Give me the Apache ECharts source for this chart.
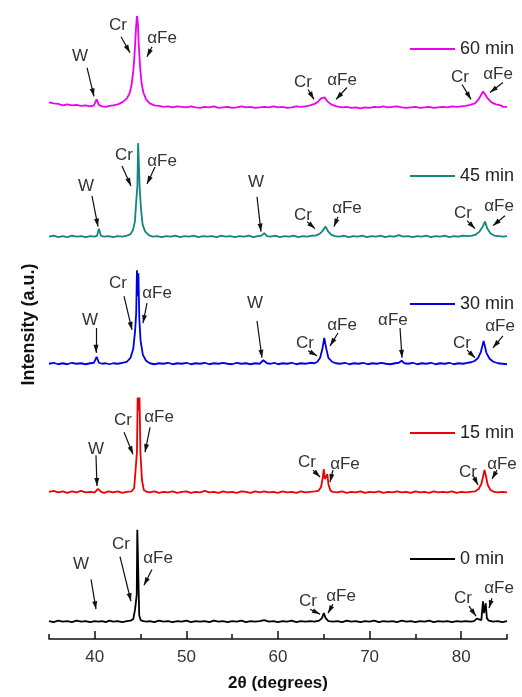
<!DOCTYPE html>
<html><head><meta charset="utf-8">
<script src="https://cdn.jsdelivr.net/npm/echarts@6/dist/echarts.min.js"></script>
<style>html,body{margin:0;padding:0;background:#fff}#c{width:522px;height:697px}</style>
</head><body><div id="c"></div>
<script>
// ---------- DATA ----------
const seriesNames = ['0 min', '15 min', '30 min', '45 min', '60 min'];
const stackOffsets = [0, 130, 260, 390, 520];   // vertical offsets of the stacked patterns (a.u.)
const xMajorTicks = [40, 50, 60, 70, 80];
const xMinorTicks = [35, 45, 55, 65, 75, 85];

// [2theta, intensity] for each pattern
const pattern0 = [[35,18],[35.5,17],[36,18.5],[36.5,17.5],[37,18],[37.5,17],[38,18.5],[38.5,17.5],[39,18],[39.5,17],[40,18],[40.2,20],[40.4,17.5],[40.8,18],[41.2,17],[41.6,18.5],[42,17.5],[42.5,18],[43,17],[43.5,18],[43.9,18.5],[44.2,20],[44.4,30],[44.5,28],[44.58,45],[44.64,110],[44.7,108],[44.76,60],[44.85,24],[45,19],[45.3,18],[45.7,17.5],[46,18],[46.5,17],[47,18.5],[47.5,17.5],[48,18],[48.5,17],[49,18],[49.5,17.5],[50,18.5],[50.5,17],[51,18],[51.5,17.5],[52,18],[52.5,17],[53,18.5],[53.5,17.5],[54,18],[54.5,17],[55,18],[55.5,17.5],[56,18.5],[56.5,17],[57,18],[57.5,17.5],[58,18],[58.5,19],[59,17.5],[59.5,18],[60,17],[60.5,18],[61,17.5],[61.5,18.5],[62,17],[62.5,18],[63,17.5],[63.5,18],[64,17.5],[64.5,18.5],[64.8,21],[65,26],[65.2,21],[65.5,18],[66,17.5],[66.5,18],[67,17],[67.5,18.5],[68,17.5],[68.5,18],[69,17],[69.5,18],[70,17.5],[70.5,18.5],[71,17],[71.5,18],[72,17.5],[72.5,18],[73,17],[73.5,18.5],[74,17.5],[74.5,18],[75,17],[75.5,18],[76,17.5],[76.5,18.5],[77,17],[77.5,18],[78,17.5],[78.5,18],[79,17],[79.5,18],[80,17.5],[80.5,18],[81,17.5],[81.4,18],[81.7,20.5],[81.9,18.5],[82.2,19],[82.38,38],[82.5,26],[82.58,25],[82.68,36],[82.8,21],[83,18.5],[83.5,17.5],[84,18],[84.5,17],[85,18]];
const pattern15 = [[35,18],[35.5,19],[36,17.5],[36.5,18.5],[37,17],[37.5,18.5],[38,17.5],[38.5,19],[39,17.5],[39.5,18],[40,17.5],[40.35,21],[40.7,18],[41,17],[41.5,18.5],[42,17.5],[42.5,18.5],[43,17],[43.5,18],[44,18.5],[44.3,22],[44.45,40],[44.6,58],[44.68,113],[44.78,100],[44.88,113],[44.98,58],[45.15,30],[45.35,20],[45.7,18],[46,17.5],[46.5,18.5],[47,17],[47.5,18],[48,17.5],[48.5,18.5],[49,17],[49.5,18],[50,18.5],[50.5,17],[51,18],[51.5,17.5],[52,19],[52.5,17.5],[53,18],[53.5,17],[54,18.5],[54.5,17.5],[55,18],[55.5,17],[56,18.5],[56.5,18],[57,17],[57.5,18.5],[58,17.5],[58.5,18.5],[59,17.5],[59.5,18],[60,17],[60.5,18.5],[61,17.5],[61.5,18],[62,17],[62.5,18.5],[63,17.5],[63.5,18],[64,18.5],[64.4,19],[64.7,23],[64.88,32],[65.0,41],[65.12,31],[65.25,30],[65.38,36],[65.52,25],[65.75,19],[66,18],[66.5,17.5],[67,18.5],[67.5,17],[68,18],[68.5,17.5],[69,18.5],[69.5,17],[70,18],[70.5,17.5],[71,18.5],[71.5,17],[72,18],[72.5,17.5],[73,18.5],[73.5,17.5],[74,18],[74.5,17],[75,18.5],[75.5,17.5],[76,18],[76.5,17],[77,18.5],[77.5,17.5],[78,18],[78.5,17.5],[79,18.5],[79.5,17],[80,18],[80.5,17.5],[81,18],[81.5,18.5],[81.9,21],[82.2,26],[82.4,34],[82.55,40],[82.7,34],[82.9,25],[83.2,20],[83.6,18],[84,17.5],[84.5,18],[85,17.5]];
const pattern30 = [[35,17],[35.5,18],[36,16.5],[36.5,17.5],[37,16.5],[37.5,18],[38,17],[38.5,17.5],[39,16.5],[39.5,17.5],[39.9,18],[40.2,24],[40.45,18],[40.8,17],[41.2,17.5],[41.6,16.5],[42,17.5],[42.5,17],[43,18],[43.5,19],[43.9,23],[44.2,32],[44.4,50],[44.52,68],[44.6,111],[44.68,85],[44.76,108],[44.86,62],[45.0,40],[45.25,26],[45.6,20],[46,17.5],[46.5,16.5],[47,17.5],[47.5,17],[48,18],[48.5,16.5],[49,17.5],[49.5,17],[50,18],[50.5,16.5],[51,17.5],[51.5,17],[52,18],[52.5,16.5],[53,17.5],[53.5,17],[54,18],[54.5,17],[55,16.5],[55.5,18],[56,17],[56.5,17.5],[57,16.5],[57.5,17.5],[58,17],[58.4,20.5],[58.8,17.5],[59.2,17],[59.6,18],[60,16.5],[60.5,17.5],[61,17],[61.5,18],[62,16.5],[62.5,17.5],[63,17],[63.5,18],[64,17.5],[64.3,19],[64.6,23],[64.85,32],[65.05,43],[65.25,33],[65.5,23],[65.9,19],[66.3,17.5],[66.8,17],[67.3,18],[67.8,16.5],[68.3,17.5],[68.8,17],[69.3,18],[69.8,16.5],[70.3,17.5],[70.8,17],[71.3,18],[71.8,17],[72.3,16.5],[72.8,17.5],[73.2,18],[73.5,20],[73.8,17.5],[74.2,17],[74.7,18],[75.2,16.5],[75.7,17.5],[76.2,17],[76.7,18],[77.2,16.5],[77.7,17.5],[78.2,17],[78.7,18],[79.2,16.5],[79.7,17.5],[80.2,17],[80.7,18],[81.1,18.5],[81.5,20],[81.85,23],[82.15,29],[82.45,40],[82.75,28],[83.1,22],[83.5,19],[84,17.5],[84.5,17],[85,16.5]];
const pattern45 = [[35,15],[35.5,16],[36,14.5],[36.5,15.5],[37,14.5],[37.5,16],[38,15],[38.5,15.5],[39,14.5],[39.5,15.5],[40,15],[40.25,16],[40.45,23],[40.65,16],[41,15],[41.5,15.5],[42,14.5],[42.5,15.5],[43,15],[43.5,16],[43.9,17.5],[44.15,21],[44.38,30],[44.52,50],[44.65,66],[44.73,109],[44.8,109],[44.9,64],[45.03,44],[45.22,27],[45.5,20],[45.9,16.5],[46.3,15],[46.8,15.5],[47.3,14.5],[47.8,15.5],[48.3,15],[48.8,16],[49.3,14.5],[49.8,15.5],[50.3,15],[50.8,16],[51.3,14.5],[51.8,15.5],[52.3,15],[52.8,15.5],[53.3,14.5],[53.8,16],[54.3,15],[54.8,15.5],[55.3,14.5],[55.8,15.5],[56.3,15],[56.8,16],[57.3,14.5],[57.8,15.5],[58.2,16],[58.5,18.5],[58.8,15.5],[59.2,15],[59.7,16],[60.2,14.5],[60.7,15.5],[61.2,15],[61.7,16],[62.2,14.5],[62.7,15.5],[63.2,15],[63.7,16],[64.1,16],[64.5,17.5],[64.8,20],[65.0,22.5],[65.2,25],[65.45,20.5],[65.8,17],[66.2,15.5],[66.7,15],[67.2,16],[67.7,14.5],[68.2,15.5],[68.7,15],[69.2,16],[69.7,14.5],[70.2,15.5],[70.7,15],[71.2,16],[71.7,14.5],[72.2,15.5],[72.7,15],[73.2,16.5],[73.7,15],[74.2,15.5],[74.7,14.5],[75.2,15.5],[75.7,15],[76.2,16],[76.7,14.5],[77.2,15.5],[77.7,15],[78.2,16],[78.7,14.5],[79.2,15.5],[79.7,15],[80.2,16],[80.7,15.5],[81.2,16],[81.6,17],[82.0,20],[82.35,25],[82.6,30],[82.85,23],[83.2,18],[83.6,16],[84.1,15.5],[84.6,15],[85,15.5]];
const pattern60 = [[35,20],[35.5,19],[36,18.5],[36.5,17],[37,18],[37.5,17],[38,17.5],[38.5,16.5],[39,17],[39.5,16],[39.9,17],[40.2,23],[40.45,17.5],[40.8,16],[41.2,15.5],[41.6,16.5],[42,17],[42.5,18],[43,20],[43.5,24],[43.8,29],[44.0,37],[44.2,51],[44.35,70],[44.5,95],[44.6,107],[44.7,100],[44.8,78],[44.95,55],[45.1,40],[45.3,30],[45.6,23],[46,19],[46.5,17],[47,16.5],[47.5,15.5],[48,16],[48.5,15],[49,16],[49.5,15.5],[50,15],[50.5,16],[51,15],[51.5,14.5],[52,15.5],[52.5,15],[53,16],[53.5,14.5],[54,15],[54.5,15.5],[55,14.5],[55.5,15],[56,16],[56.5,15],[57,15.5],[57.5,14.5],[58,15],[58.5,15.5],[59,15],[59.5,16],[60,15],[60.5,15.5],[61,14.5],[61.5,15],[62,16],[62.5,15.5],[63,16],[63.5,17],[64,18.5],[64.4,21],[64.7,24],[64.9,26],[65.1,25],[65.4,21],[65.8,18],[66.4,16],[67,15],[67.5,15.5],[68,14.5],[68.5,15],[69,14],[69.5,15],[70,14.5],[70.5,15.5],[71,15],[71.5,16],[72,15],[72.5,15.5],[73,16],[73.5,15],[74,14.5],[74.5,15],[75,15.5],[75.5,14.5],[76,15],[76.5,15.5],[77,14.5],[77.5,15],[78,15.5],[78.5,15],[79,16],[79.5,15.5],[80,16],[80.5,16.5],[81,17.5],[81.5,19],[81.9,23],[82.2,28],[82.4,31],[82.6,29],[82.9,24],[83.3,20],[83.8,18],[84.3,17],[84.6,15.5],[85,15.5]];
const patterns = [pattern0, pattern15, pattern30, pattern45, pattern60];

// phase labels: [text, 2theta, stacked intensity]
const phaseLabels = [
  ['W',38.49,75],['Cr',42.86,95],['αFe',46.90,81],['Cr',63.28,38],['αFe',66.88,43],['Cr',80.20,41],['αFe',84.13,51],
  ['W',40.13,191],['Cr',43.08,220],['αFe',47.01,223],['Cr',63.17,178],['αFe',67.31,176],['Cr',80.74,168],['αFe',84.45,176],
  ['W',39.48,321],['Cr',42.53,358],['αFe',46.79,348],['W',57.49,338],['Cr',62.95,298],['αFe',66.99,316],['αFe',72.55,321],['Cr',80.09,298],['αFe',84.24,315],
  ['W',39.04,456],['Cr',43.19,487],['αFe',47.34,481],['W',57.60,460],['Cr',62.73,426],['αFe',67.53,433],['Cr',80.20,428],['αFe',84.13,435],
  ['W',38.38,586],['Cr',42.53,618],['αFe',47.34,605],['Cr',62.73,560],['αFe',66.99,562],['Cr',79.87,565],['αFe',84.02,568]
];
// arrows: [from 2theta, from intensity, to 2theta, to intensity]
const phaseArrows = [
  [39.59,60,40.13,30],[42.75,83,43.95,38],[46.24,70,45.37,54],[63.49,30,64.59,25],[66.00,35,65.46,26],[80.85,33,81.62,23],[83.36,41,83.03,31],
  [40.13,185,40.24,154],[43.19,208,44.17,186],[46.03,213,45.48,188],[63.82,170,64.59,163],[66.00,170,65.68,158],[81.29,165,81.83,155],[83.91,170,83.36,161],
  [40.13,313,40.13,288],[43.19,345,44.06,311],[45.70,338,45.26,318],[57.71,320,58.25,283],[63.28,290,64.26,285],[66.55,308,65.68,295],[73.32,313,73.54,283],[80.63,291,81.51,283],[84.56,305,83.47,293],
  [39.69,446,40.35,415],[42.97,476,43.95,456],[46.57,475,45.70,458],[57.71,445,58.14,410],[63.17,420,64.04,413],[66.55,425,66.11,415],[80.63,421,81.51,413],[84.78,426,83.47,416],
  [39.15,575,39.91,546],[42.86,606,43.84,590],[46.24,596,45.70,586],[63.28,553,63.93,543],[67.53,555,66.33,543],[80.09,558,81.07,543],[84.56,560,83.14,550]
];

// ---------- STYLE ----------
const FONT = "'Liberation Sans', Arial, sans-serif";
const colors = ['#000000', '#ee0000', '#0000e0', '#11877c', '#ee00ee'];
const legendTops = [550, 424, 295, 167, 40];
const HEAD_W = 5, HEAD_L = 8;

const series = patterns.map((p, i) => ({
  name: seriesNames[i],
  type: 'line',
  showSymbol: false,
  symbol: 'none',
  clip: false,
  animation: false,
  silent: true,
  z: 2,
  lineStyle: { color: colors[i], width: 1.8 },
  itemStyle: { color: colors[i] },
  data: p.map(pt => [pt[0], pt[1] + stackOffsets[i]])
}));

series[0].markPoint = {
  symbol: 'circle', symbolSize: 1, silent: true, animation: false,
  itemStyle: { color: 'rgba(0,0,0,0)' },
  label: { show: true, position: 'inside', formatter: p => p.name, fontSize: 17, color: '#333', fontFamily: FONT },
  data: phaseLabels.map(l => ({ name: l[0], coord: [l[1], l[2]] }))
};
series[0].markLine = {
  symbol: 'none', silent: true, animation: false,
  label: { show: false },
  lineStyle: { color: '#111', width: 1.2, type: 'solid' },
  emphasis: { disabled: true },
  data: phaseArrows.map(a => [{ coord: [a[0], a[1]] }, { coord: [a[2], a[3]] }])
};

const chart = echarts.init(document.getElementById('c'), null, { renderer: 'canvas' });
chart.setOption({
  backgroundColor: '#fff',
  animation: false,
  textStyle: { fontFamily: FONT },
  grid: { left: 49, right: 15, top: 10, bottom: 54 },
  legend: seriesNames.map((n, i) => ({
    data: [n], left: 410, top: legendTops[i], icon: 'rect', itemWidth: 45, itemHeight: 2,
    padding: 0, itemGap: 0, selectedMode: false,
    textStyle: { fontSize: 18, color: '#222', fontFamily: FONT }
  })),
  xAxis: [{
    type: 'value', min: 35, max: 85, position: 'bottom',
    name: '2θ (degrees)', nameLocation: 'middle', nameGap: 36,
    nameTextStyle: { fontSize: 17, fontWeight: 'bold', color: '#111', fontFamily: FONT },
    axisLine: { show: true, onZero: false, lineStyle: { color: '#111', width: 1.5 } },
    axisTick: { show: true, inside: true, length: 8, customValues: xMajorTicks, lineStyle: { color: '#111', width: 1.5 } },
    axisLabel: { show: true, customValues: xMajorTicks, margin: 10, fontSize: 17, color: '#333', fontFamily: FONT },
    splitLine: { show: false }
  }, {
    type: 'value', min: 35, max: 85, position: 'bottom',
    axisLine: { show: false, onZero: false },
    axisTick: { show: true, inside: true, length: 5, customValues: xMinorTicks, lineStyle: { color: '#111', width: 1.5 } },
    axisLabel: { show: false },
    splitLine: { show: false }
  }],
  yAxis: {
    type: 'value', min: 0, max: 633,
    name: 'Intensity (a.u.)', nameLocation: 'middle', nameGap: 11,
    nameTextStyle: { fontSize: 18, fontWeight: 'bold', color: '#111', fontFamily: FONT },
    axisLine: { show: false }, axisTick: { show: false }, axisLabel: { show: false }, splitLine: { show: false }
  },
  series: series
});

// arrowheads: triangles at the arrow ends, oriented along each arrow (direction from the library's own scales)
const heads = phaseArrows.map(a => {
  const p1 = chart.convertToPixel({ xAxisIndex: 0, yAxisIndex: 0 }, [a[0], a[1]]);
  const p2 = chart.convertToPixel({ xAxisIndex: 0, yAxisIndex: 0 }, [a[2], a[3]]);
  const dx = p2[0] - p1[0], dy = p2[1] - p1[1];
  const len = Math.hypot(dx, dy) || 1;
  const ux = dx / len, uy = dy / len;
  return {
    coord: [a[2], a[3]],
    symbolRotate: Math.atan2(-ux, -uy) * 180 / Math.PI,
    symbolOffset: [-ux * HEAD_L / 2, -uy * HEAD_L / 2]
  };
});
chart.setOption({
  series: [{}, {
    markPoint: {
      symbol: 'triangle', symbolSize: [HEAD_W, HEAD_L], symbolKeepAspect: false,
      silent: true, animation: false,
      itemStyle: { color: '#111' },
      label: { show: false },
      data: heads
    }
  }]
});
</script>
</body></html>
